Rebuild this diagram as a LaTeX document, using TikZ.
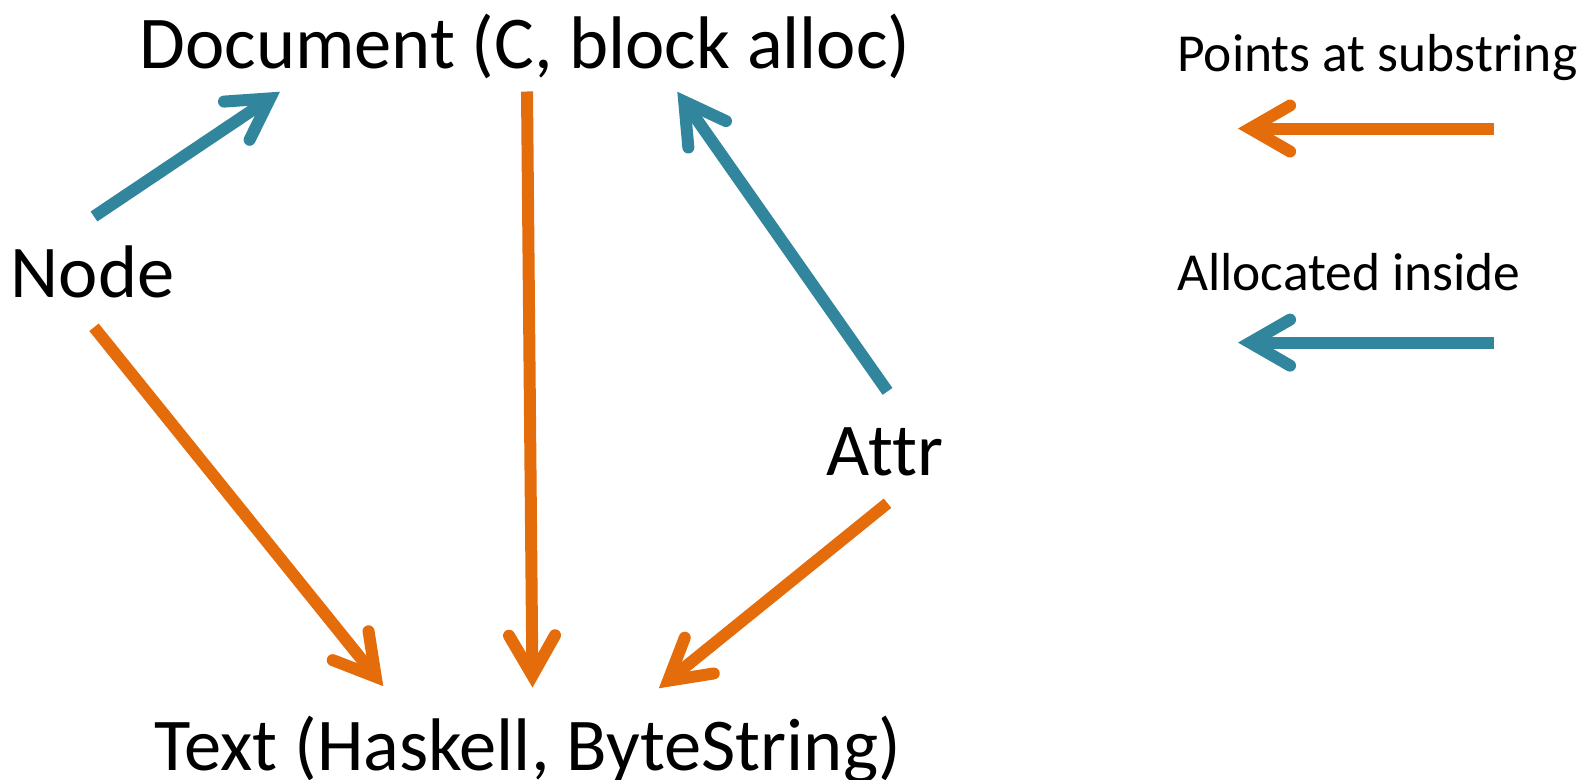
\documentclass[tikz,border=0pt]{standalone}
\usepackage{fontspec}
\setmainfont{Carlito}[Ligatures=NoCommon]
\usetikzlibrary{arrows.meta}
\definecolor{teal5}{HTML}{31859C}
\definecolor{orange6}{HTML}{E46C0A}
\tikzset{
  bigtext/.style={inner sep=0pt, anchor=base, font=\fontsize{74.5}{80}\selectfont},
  legtext/.style={inner sep=0pt, anchor=base west, font=\fontsize{53.5}{60}\selectfont},
  conn/.style={line width=12pt, line cap=butt,
    -{Straight Barb[length=40pt, width=46pt, line cap=round, line join=miter]}},
  subarrow/.style={conn, draw=orange6},
  allocarrow/.style={conn, draw=teal5}
}
\begin{document}
\begin{tikzpicture}[x=1pt,y=-1pt]
\useasboundingbox (0,0) rectangle (1594,779);
% texts
\node[bigtext] (doc) at (525,68) {Document (C, block alloc)};
\node[bigtext] (node) at (92.5,297) {Node};
\node[bigtext] (attr) at (885,475) {Attr};
\node[bigtext] (text) at (527.6,770) {Text (Haskell, ByteString)};
\node[legtext] (lsub) at (1177,71) {Points at substring};
\node[legtext] (lalloc) at (1177,290) {Allocated inside};
% end points
\coordinate (n1) at (94,216.5);
\coordinate (d1) at (280,91.7);
\coordinate (d2) at (527,91.5);
\coordinate (t2) at (532.5,687.5);
\coordinate (a3) at (887.5,391.4);
\coordinate (d3) at (677.3,91.7);
\coordinate (n4) at (94,327.3);
\coordinate (t4) at (383.3,686.2);
\coordinate (a5) at (887.5,503.2);
\coordinate (t5) at (658.8,688.3);
\coordinate (ls0) at (1494,128.5);
\coordinate (ls1) at (1238,128.5);
\coordinate (la0) at (1494,342.6);
\coordinate (la1) at (1238,342.6);
% connectors
\draw[allocarrow] (n1) -- (d1);
\draw[subarrow] (d2) -- (t2);
\draw[allocarrow] (a3) -- (d3);
\draw[subarrow] (n4) -- (t4);
\draw[subarrow] (a5) -- (t5);
\draw[subarrow] (ls0) -- (ls1);
\draw[allocarrow] (la0) -- (la1);
\end{tikzpicture}
\end{document}
